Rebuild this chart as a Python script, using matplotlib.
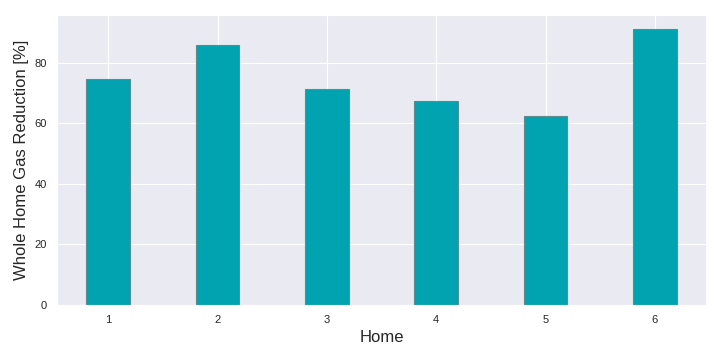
import matplotlib
matplotlib.use("Agg")
import matplotlib.pyplot as plt
import seaborn as sns

homes = [1, 2, 3, 4, 5, 6]
reduction = [74.7, 85.9, 71.4, 67.2, 62.2, 91.1]

sns.set_style("darkgrid")
plt.rcParams['font.family'] = ['Liberation Sans', 'DejaVu Sans']

fig, ax = plt.subplots(figsize=(7.2, 3.6), dpi=100)
ax.bar(homes, reduction, width=0.4, color="#00A3AF", edgecolor="#5f8a8e", linewidth=0.8)
ax.set_xticks(homes)
ax.tick_params(labelsize=8)
ax.set_xlabel("Home", fontsize=12)
ax.set_ylabel("Whole Home Gas Reduction [%]", fontsize=12)
fig.subplots_adjust(left=0.079, right=0.981, top=0.958, bottom=0.153)
fig.savefig("out.png", dpi=100)
